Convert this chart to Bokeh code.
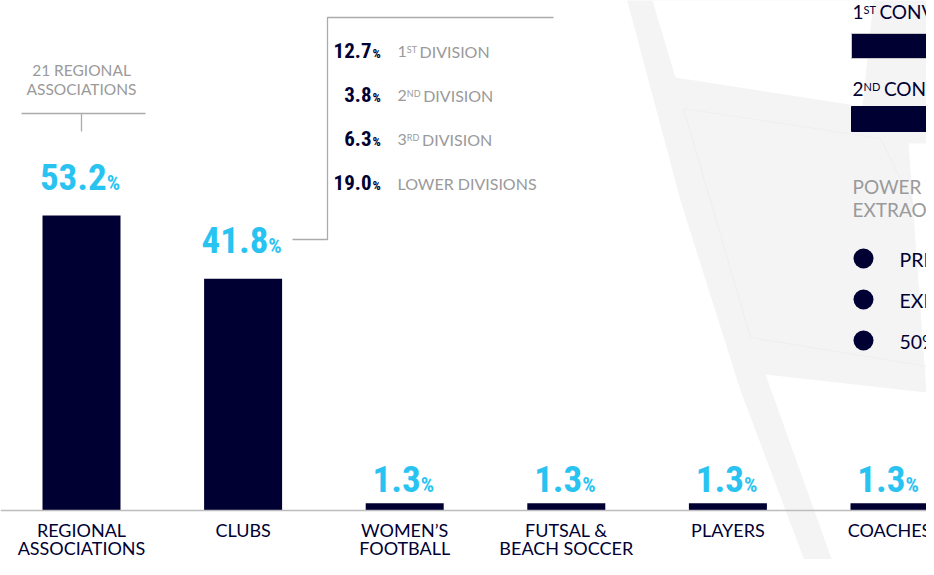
from bokeh.plotting import figure
from bokeh.models import Range1d, Span
from bokeh.core.properties import value
from bokeh.embed import file_html
from bokeh.resources import INLINE

# ---------------- data ----------------
categories = ["REGIONAL\nASSOCIATIONS", "CLUBS", "WOMEN\u2019S\nFOOTBALL",
              "FUTSAL &\nBEACH SOCCER", "PLAYERS", "COACHES"]
shares = [53.2, 41.8, 1.3, 1.3, 1.3, 1.3]

regional_note = ["21 REGIONAL", "ASSOCIATIONS"]

club_split_values = [12.7, 3.8, 6.3, 19.0]
club_split_ordinals = ["1", "2", "3", ""]
club_split_suffixes = ["ST", "ND", "RD", ""]
club_split_names = ["DIVISION", "DIVISION", "DIVISION", "LOWER DIVISIONS"]

convocation_ordinals = ["1", "2"]
convocation_suffixes = ["ST", "ND"]
convocation_name = "CONVOCATION"
power_title = ["POWER TO CONVENE AN", "EXTRAORDINARY CONGRESS"]
power_holders = ["PRESIDENT", "EXECUTIVE COMMITTEE", "50% OF MEMBERS"]

# ---------------- style / layout ----------------
NAVY = "#000033"
CYAN = "#29c3f2"
GREY_TXT = "#9a9a9a"
GREY_LINE = "#ababab"
GREY_BG = "#f4f4f5"
LATO = value("Lato")
NARROW = value("Roboto Condensed, Open Sans Condensed, DejaVu Sans Condensed, sans-serif")

W, H = 926, 559
BASE_Y = 510
PX_PER_PCT = 5.545
BAR0_X = 81
STEP = 161.6
BAR_W = 78
CAP = 0.36  # half cap-height as a fraction of font size

NARROW_W = {"0": .50, "1": .50, "2": .50, "3": .50, "4": .50, "5": .50,
            "6": .50, "7": .50, "8": .50, "9": .50, ".": .24, "%": .66}
LATO_W = {"1": .58, "2": .58, "3": .58, "S": .50, "T": .58, "N": .75, "D": .74, "R": .62}


def w_narrow(s, size):
    return sum(NARROW_W.get(c, .5) for c in s) * size


def w_lato(s, size):
    return sum(LATO_W.get(c, .6) for c in s) * size


p = figure(width=W, height=H,
           x_range=Range1d(-BAR0_X / STEP, (W - BAR0_X) / STEP),
           y_range=Range1d(-(H - BASE_Y) / PX_PER_PCT, BASE_Y / PX_PER_PCT),
           output_backend="svg", toolbar_location=None, min_border=0,
           x_axis_type=None, y_axis_type=None, title=None)
p.extra_x_ranges = {"px": Range1d(0, W)}
p.extra_y_ranges = {"py": Range1d(H, 0)}
p.outline_line_color = None
p.background_fill_color = "white"
p.border_fill_color = "white"
p.grid.visible = False
PX = dict(x_range_name="px", y_range_name="py")
MID = dict(text_baseline="middle")

# ---------------- background field shapes ----------------
bg_xs = [[624, 680, 740, 819, 950, 950],
         [649, 675, 862, 874],
         [765, 926, 908, 950, 950, 846]]
bg_ys = [[-10, 200, 390, 600, 600, -10],
         [-10, 77, 106, -10],
         [374, 392, 143, 143, 600, 600]]
p.patches(bg_xs, bg_ys, fill_color=[GREY_BG, "white", "white"], line_color=None, **PX)
p.multi_line([[683, 707, 750, 934], [683, 880, 913]], [[108, 190, 337, 367], [108, 138, 205]],
             line_color="#efeff1", line_width=1.2, **PX)

# ---------------- bars ----------------
idx = list(range(len(categories)))
p.vbar(x=idx, top=shares, bottom=0, width=BAR_W / STEP, fill_color=NAVY, line_color=None)
p.add_layout(Span(location=0, dimension="width", line_color="#bdbdbd", line_width=1.5))

# value labels (number + smaller percent sign), positioned by baseline distance
NUM_SIZE, PCT_SIZE = 37, 21
nums = [f"{v:.1f}" for v in shares]
base_gap = [25 if v > 10 else 11 for v in shares]
join = [(w_narrow(n, NUM_SIZE) - w_narrow("%", PCT_SIZE)) / 2 for n in nums]
p.text(x=idx, y=shares, text=nums, x_offset=join,
       y_offset=[-(g + CAP * NUM_SIZE) for g in base_gap],
       text_align="right", text_font=NARROW, text_font_size=f"{NUM_SIZE}px",
       text_font_style="bold", text_color=CYAN, **MID)
p.text(x=idx, y=shares, text=["%"] * len(shares), x_offset=join,
       y_offset=[-(g + CAP * PCT_SIZE) for g in base_gap],
       text_align="left", text_font=NARROW, text_font_size=f"{PCT_SIZE}px",
       text_font_style="bold", text_color=CYAN, **MID)

# category labels
line1 = [c.split("\n")[0] for c in categories]
line2 = [c.split("\n")[1] if "\n" in c else "" for c in categories]
for lines, off in ((line1, 19), (line2, 37)):
    p.text(x=idx, y=[0] * len(idx), text=lines, y_offset=[off] * len(idx),
           text_align="center", text_font=LATO, text_font_size="18px",
           text_color=NAVY, **MID)

# ---------------- regional associations note ----------------
p.text(x=[BAR0_X] * 2, y=[69, 88.5], text=regional_note, text_align="center",
       text_font=LATO, text_font_size="15.5px", text_color=GREY_TXT, **MID, **PX)
p.segment(x0=[21, BAR0_X], y0=[113, 113], x1=[145, BAR0_X], y1=[113, 131],
          line_color=GREY_LINE, line_width=1.3, **PX)

# ---------------- clubs breakdown ----------------
p.line([553, 327, 327, 292], [17, 17, 239, 239], line_color=GREY_LINE, line_width=1.3, **PX)
row_base = [58 + 44 * i for i in range(len(club_split_values))]
DN, DP, LBL, SUP = 21, 13, 16, 9
p.text(x=[371] * 4, y=[b - CAP * DN for b in row_base],
       text=[f"{v:.1f}" for v in club_split_values], text_align="right",
       text_font=NARROW, text_font_size=f"{DN}px", text_font_style="bold",
       text_color=NAVY, **MID, **PX)
p.text(x=[372] * 4, y=[b - CAP * DP for b in row_base], text=["%"] * 4, text_align="left",
       text_font=NARROW, text_font_size=f"{DP}px", text_font_style="bold",
       text_color=NAVY, **MID, **PX)
ord_x = 397
suf_x = [ord_x + w_lato(o, LBL) for o in club_split_ordinals]
name_x = [ord_x + (w_lato(o, LBL) + w_lato(s, SUP) + 3 if o else 0)
          for o, s in zip(club_split_ordinals, club_split_suffixes)]
p.text(x=[ord_x] * 4, y=[b - 1 - CAP * LBL for b in row_base], text=club_split_ordinals,
       text_font=LATO, text_font_size=f"{LBL}px", text_color=GREY_TXT, **MID, **PX)
p.text(x=suf_x, y=[b - 1 - 2 * CAP * LBL + CAP * SUP for b in row_base], text=club_split_suffixes,
       text_font=LATO, text_font_size=f"{SUP}px", text_color=GREY_TXT, **MID, **PX)
p.text(x=name_x, y=[b - 1 - CAP * LBL for b in row_base], text=club_split_names,
       text_font=LATO, text_font_size=f"{LBL}px", text_color=GREY_TXT, **MID, **PX)

# ---------------- right panel (congress convocation) ----------------
conv_base = [18, 95]
CV, CVS = 19, 11
p.quad(left=[851, 851], right=[945, 945], top=[33, 106], bottom=[58, 131],
       fill_color=NAVY, line_color=["#c8c8c8", NAVY], line_width=1, **PX)
p.text(x=[852] * 2, y=[b - CAP * CV for b in conv_base], text=convocation_ordinals,
       text_font=LATO, text_font_size=f"{CV}px", text_color=NAVY, **MID, **PX)
p.text(x=[852 + w_lato(o, CV) for o in convocation_ordinals],
       y=[b - 2 * CAP * CV + CAP * CVS + 1 for b in conv_base],
       text=convocation_suffixes, text_font=LATO, text_font_size=f"{CVS}px",
       text_color=NAVY, **MID, **PX)
p.text(x=[851 + w_lato(o, CV) + w_lato(s, CVS) + 5 for o, s in zip(convocation_ordinals, convocation_suffixes)],
       y=[b - CAP * CV for b in conv_base], text=[convocation_name] * 2,
       text_font=LATO, text_font_size=f"{CV}px", text_color=NAVY, **MID, **PX)

p.text(x=[852] * 2, y=[185.5, 208.5], text=power_title, text_font=LATO,
       text_font_size="19px", text_color=GREY_TXT, **MID, **PX)
dot_y = [258, 299, 340]
p.scatter(x=[863] * 3, y=dot_y, marker="circle", size=20, fill_color=NAVY, line_color=None, **PX)
p.text(x=[899] * 3, y=[y + 1 for y in dot_y], text=power_holders, text_font=LATO,
       text_font_size="19.5px", text_color=NAVY, **MID, **PX)

open("out.html", "w").write(file_html(p, INLINE))
